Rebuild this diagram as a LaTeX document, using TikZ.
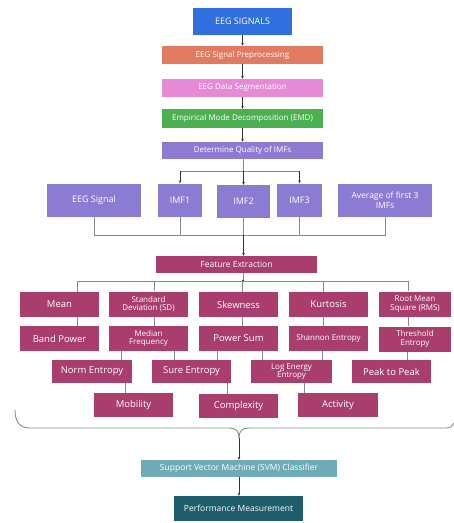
\documentclass[tikz,border=0pt]{standalone}
\usepackage{fontspec}
\setmainfont{Open Sans}
\usetikzlibrary{arrows.meta}
\definecolor{cblue}{HTML}{2F6FDE}
\definecolor{csalmon}{HTML}{E27A62}
\definecolor{cpink}{HTML}{E68AD6}
\definecolor{cgreen}{HTML}{4CAF50}
\definecolor{cpurple}{HTML}{8C7BD3}
\definecolor{cberry}{HTML}{A83D6E}
\definecolor{csvm}{HTML}{6FAAB8}
\definecolor{cperf}{HTML}{1E5D6B}
\definecolor{cline}{HTML}{8A8A8A}
\tikzset{
  box/.style={rectangle, inner sep=1pt, text=white, align=center, font=\fontsize{8}{8.6}\selectfont},
  bigbox/.style={box, font=\fontsize{9}{9.6}\selectfont},
  feat/.style={box, fill=cberry, minimum width=79pt, minimum height=25pt, font=\fontsize{9.5}{10}\selectfont},
  twoline/.style={font=\fontsize{8}{8.8}\selectfont},
  conn/.style={draw=cline, line width=0.7pt},
  arr/.style={draw=black!80, line width=0.7pt, -{Stealth[length=3pt,width=2.6pt]}},
}
\begin{document}
\begin{tikzpicture}[x=1pt,y=-1pt]
\useasboundingbox (0,0) rectangle (454,523);
% top chain
\node[bigbox, fill=cblue, minimum width=99pt, minimum height=27pt] (sig) at (242.5,21.5) {EEG SIGNALS};
\node[box, fill=csalmon, minimum width=161pt, minimum height=18pt] (pre) at (242.5,55) {EEG Signal Preprocessing};
\node[box, fill=cpink, minimum width=161pt, minimum height=18pt] (seg) at (242.5,88) {EEG Data Segmentation};
\node[box, fill=cgreen, minimum width=161pt, minimum height=19pt] (emd) at (242.5,118.5) {Empirical Mode Decomposition (EMD)};
\node[box, fill=cpurple, minimum width=161pt, minimum height=17pt] (qual) at (242.5,150.5) {Determine Quality of IMFs};
\draw[arr] (sig) -- (pre);
\draw[arr] (pre) -- (seg);
\draw[arr] (seg) -- (emd);
\draw[arr] (emd) -- (qual);
% IMF row
\node[bigbox, fill=cpurple, minimum width=94pt, minimum height=33pt] (eeg) at (94,200) {EEG Signal};
\node[bigbox, fill=cpurple, minimum width=44pt, minimum height=33pt] (imf1) at (180,200) {IMF1};
\node[bigbox, fill=cpurple, minimum width=53pt, minimum height=33pt] (imf2) at (243.5,201.5) {IMF2};
\node[bigbox, fill=cpurple, minimum width=45pt, minimum height=33pt] (imf3) at (299.5,200) {IMF3};
\node[box, fill=cpurple, minimum width=94pt, minimum height=33pt, font=\fontsize{8.5}{9.5}\selectfont] (avg) at (385,200.5) {Average of first 3\\IMFs};
\coordinate (tb) at (243.5,171);
\draw[conn] (qual.south -| tb) -- (tb);
\draw[conn] (imf1.north |- tb) -- (imf3.north |- tb);
\draw[arr] (imf1.north |- tb) -- (imf1.north);
\draw[arr] (tb) -- (imf2.north);
\draw[arr] (imf3.north |- tb) -- (imf3.north);
\coordinate (bb) at (243.5,235);
\draw[conn] (eeg.south) -- (eeg.south |- bb) -- (avg.south |- bb) -- (avg.south);
\draw[conn] (imf1.south) -- (imf1.south |- bb);
\draw[conn] (imf2.south) -- (bb);
\draw[conn] (imf3.south) -- (imf3.south |- bb);
% feature extraction
\node[box, fill=cberry, minimum width=161pt, minimum height=17pt, font=\fontsize{8.5}{9}\selectfont] (fe) at (236.5,264.5) {Feature Extraction};
\draw[arr] (bb) -- (bb |- fe.north);
% row 1
\node[feat] (mean) at (59.5,304.5) {Mean};
\node[feat, twoline] (sd) at (148.5,304) {Standard\\Deviation (SD)};
\node[feat] (skew) at (238.5,304.5) {Skewness};
\node[feat] (kurt) at (328.5,304.5) {Kurtosis};
\node[feat, twoline, minimum width=72pt] (rms) at (415,304) {Root Mean\\Square (RMS)};
% row 2
\node[feat] (band) at (59.5,338.5) {Band Power};
\node[feat, twoline] (med) at (148.5,338.5) {Median\\Frequency};
\node[feat] (psum) at (238.5,338.5) {Power Sum};
\node[feat, font=\fontsize{8}{8.8}\selectfont] (shan) at (328.5,338.5) {Shannon Entropy};
\node[feat, twoline, minimum width=72pt] (thr) at (415,339) {Threshold\\Entropy};
% row 3
\node[feat, minimum width=80pt, minimum height=23pt] (norm) at (92,371.5) {Norm Entropy};
\node[feat, minimum height=23pt] (sure) at (191.5,371.5) {Sure Entropy};
\node[feat, twoline, minimum width=81pt, minimum height=23pt] (loge) at (291.5,371.5) {Log Energy\\Entropy};
\node[feat, minimum height=23pt] (p2p) at (391.5,371.5) {Peak to Peak};
% row 4
\node[feat, minimum height=24pt] (mob) at (133.5,405) {Mobility};
\node[feat, minimum height=24pt] (cplx) at (238.5,406) {Complexity};
\node[feat, minimum width=80pt, minimum height=24pt] (act) at (338,405) {Activity};
% FE bus
\coordinate (fb) at (243,281);
\draw[conn] (fe.south -| fb) -- (fb);
\fill[black!80] (fb) circle (1.3pt);
\draw[conn] (77,281) coordinate (f1) -- (408,281) coordinate (f5);
\foreach \x/\a/\b in {77/mean/band, 154/sd/med, 242/skew/psum, 323/kurt/shan, 408/rms/thr} {
  \draw[conn] (\x,281) -- (\a.north -| {(\x,0)});
  \draw[conn] (\a.south -| {(\x,0)}) -- (\b.north -| {(\x,0)});
}
% row 2 -> row 3
\draw[conn] (med.south -| {(121,0)}) -- (norm.north -| {(121,0)});
\draw[conn] (med.south -| {(174,0)}) -- (sure.north -| {(174,0)});
\draw[conn] (psum.south -| {(217,0)}) -- (sure.north -| {(217,0)});
\draw[conn] (psum.south -| {(262,0)}) -- (loge.north -| {(262,0)});
\draw[conn] (shan.south -| {(322,0)}) -- (loge.north -| {(322,0)});
\draw[conn] (thr.south -| {(407,0)}) -- (p2p.north -| {(407,0)});
% row 3 -> row 4
\draw[conn] (norm.south -| {(125,0)}) -- (mob.north -| {(125,0)});
\draw[conn] (sure.south -| {(227,0)}) -- (cplx.north -| {(227,0)});
\draw[conn] (loge.south -| {(304,0)}) -- (act.north -| {(304,0)});
% brace
\coordinate (tip) at (239,438);
\draw[conn, line width=0.9pt] (15,410) .. controls (15,422) and (20,428) .. (30,428) -- (229,428) .. controls (236,428) and (239,431) .. (tip);
\draw[conn, line width=0.9pt] (tip) .. controls (239,431) and (242,428) .. (249,428) -- (446,428) .. controls (450,428) and (453,426) .. (454,423);
% bottom
\node[box, fill=csvm, minimum width=196pt, minimum height=17pt, font=\fontsize{8.5}{9}\selectfont] (svm) at (239,468.5) {Support Vector Machine (SVM) Classifier};
\node[box, fill=cperf, minimum width=129pt, minimum height=25pt, font=\fontsize{8.5}{9}\selectfont] (perf) at (238.5,508.5) {Performance Measurement};
\draw[arr] (tip) -- (tip |- svm.north);
\draw[arr] (svm.south -| tip) -- (perf.north -| tip);
\end{tikzpicture}
\end{document}
